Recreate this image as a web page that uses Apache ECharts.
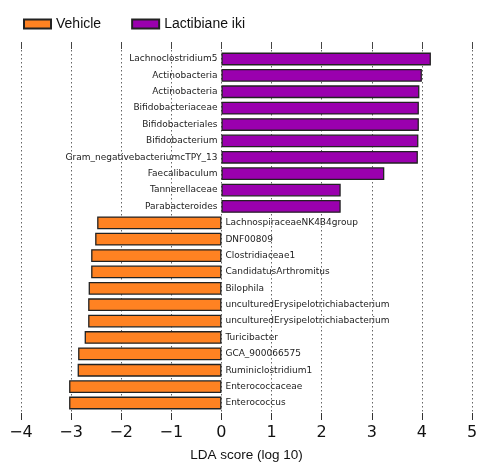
<!DOCTYPE html>
<html><head><meta charset="utf-8">
<script src="https://cdn.jsdelivr.net/npm/echarts@6/dist/echarts.min.js"></script>
<style>html,body{margin:0;padding:0;background:#fff}#c{width:478px;height:462px}</style>
</head><body><div id="c"></div>
<script>
const categories = [
  'Lachnoclostridium5','Actinobacteria','Actinobacteria','Bifidobacteriaceae','Bifidobacteriales',
  'Bifidobacterium','Gram_negativebacteriumcTPY_13','Faecalibaculum','Tannerellaceae','Parabacteroides',
  'LachnospiraceaeNK4B4group','DNF00809','Clostridiaceae1','CandidatusArthromitus','Bilophila',
  'unculturedErysipelotrichiabacterium','unculturedErysipelotrichiabacterium','Turicibacter',
  'GCA_900066575','Ruminiclostridium1','Enterococcaceae','Enterococcus'
];
const lactibianeValues = [4.18,4.00,3.95,3.94,3.94,3.93,3.92,3.25,2.38,2.38,
  '-','-','-','-','-','-','-','-','-','-','-','-'];
const vehicleValues = ['-','-','-','-','-','-','-','-','-','-',
  -2.48,-2.52,-2.60,-2.60,-2.65,-2.66,-2.66,-2.73,-2.86,-2.87,-3.04,-3.04];
const xTicks = { min: -4, max: 5, interval: 1 };
const seriesNames = ['Vehicle', 'Lactibiane iki'];

const chart = echarts.init(document.getElementById('c'), null, { renderer: 'canvas' });
const narrow = "'Liberation Sans Narrow','Liberation Sans',sans-serif";
const labelStyle = { fontFamily: 'DejaVu Sans', fontSize: 9, color: '#222' };
chart.setOption({
  animation: false,
  backgroundColor: '#fff',
  legend: {
    data: seriesNames,
    left: 18, top: 12,
    itemWidth: 27, itemHeight: 9, itemGap: 30,
    icon: 'rect',
    textStyle: { fontFamily: narrow, fontSize: 14, color: '#111' }
  },
  grid: [
    { left: 21, right: 6, top: 42, bottom: 42, containLabel: false, outerBoundsMode: 'none' },
    { left: 21, right: 6, top: 50.8, bottom: 50.8, containLabel: false, outerBoundsMode: 'none' }
  ],
  xAxis: [
    { gridIndex: 0, type: 'value', position: 'bottom', min: xTicks.min, max: xTicks.max, interval: xTicks.interval,
      axisLine: { show: false },
      axisTick: { show: true, inside: true, length: 7, lineStyle: { color: '#333', width: 1 } },
      axisLabel: { margin: 5, fontFamily: 'DejaVu Sans', fontSize: 16, color: '#111',
        formatter: v => String(v).replace('-', '\u2212') },
      splitLine: { show: true, lineStyle: { type: [1.5, 2.5], color: '#666', width: 1 } },
      name: 'LDA score (log 10)', nameLocation: 'middle', nameGap: 28,
      nameTextStyle: { fontFamily: narrow, fontSize: 13.5, color: '#111' } },
    { gridIndex: 0, type: 'value', position: 'top', min: xTicks.min, max: xTicks.max, interval: xTicks.interval,
      axisLine: { show: false },
      axisTick: { show: true, inside: true, length: 7, lineStyle: { color: '#444', width: 1 } },
      axisLabel: { show: false }, splitLine: { show: false } },
    { gridIndex: 1, type: 'value', min: xTicks.min, max: xTicks.max, interval: xTicks.interval, show: false }
  ],
  yAxis: [
    { gridIndex: 0, type: 'value', show: false },
    { gridIndex: 1, type: 'category', data: categories, inverse: true, show: false }
  ],
  series: [
    { name: 'Vehicle', type: 'bar', xAxisIndex: 2, yAxisIndex: 1, data: vehicleValues,
      barWidth: '78%', barGap: '-100%',
      itemStyle: { color: '#FF8222', borderColor: '#222', borderWidth: 1.3 },
      label: { show: true, position: 'right', distance: 4, formatter: p => categories[p.dataIndex], ...labelStyle } },
    { name: 'Lactibiane iki', type: 'bar', xAxisIndex: 2, yAxisIndex: 1, data: lactibianeValues,
      barWidth: '78%', barGap: '-100%',
      itemStyle: { color: '#9A00AE', borderColor: '#222', borderWidth: 1.3 },
      label: { show: true, position: 'left', distance: 4, formatter: p => categories[p.dataIndex], ...labelStyle } }
  ]
});
</script></body></html>
